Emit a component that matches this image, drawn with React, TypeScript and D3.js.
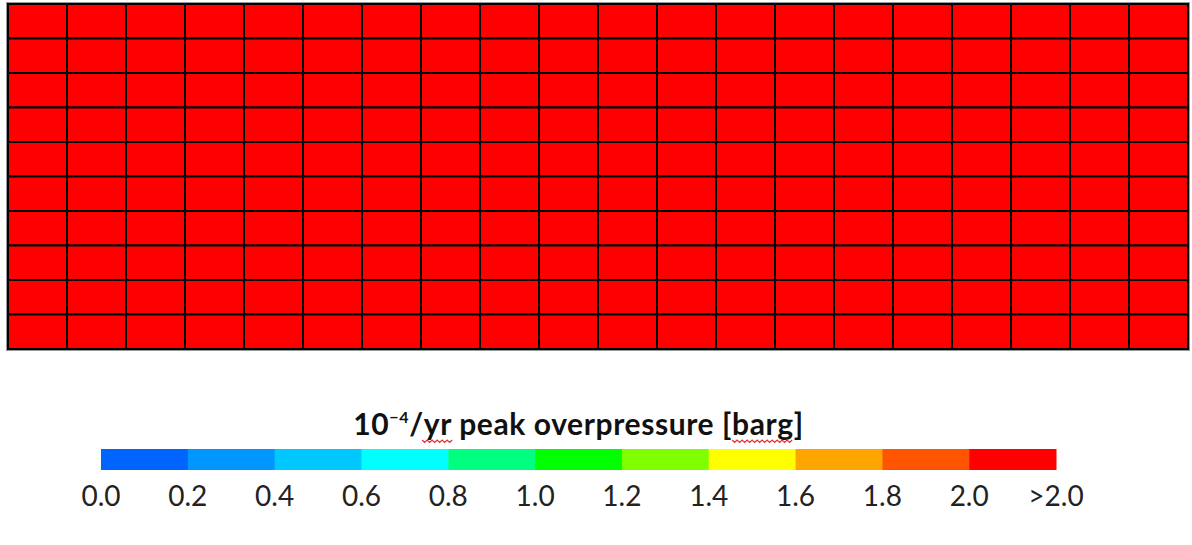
import React, { useEffect, useRef } from 'react';
import * as d3 from 'd3';

// ---- data ----
const columns = ['c01','c02','c03','c04','c05','c06','c07','c08','c09','c10','c11','c12','c13','c14','c15','c16','c17','c18','c19','c20'];
const rows = ['r01','r02','r03','r04','r05','r06','r07','r08','r09','r10'];
// 10^-4/yr peak overpressure per cell [barg]; every cell reads ">2.0"
const row01 = [2.5,2.5,2.5,2.5,2.5,2.5,2.5,2.5,2.5,2.5,2.5,2.5,2.5,2.5,2.5,2.5,2.5,2.5,2.5,2.5];
const row02 = [2.5,2.5,2.5,2.5,2.5,2.5,2.5,2.5,2.5,2.5,2.5,2.5,2.5,2.5,2.5,2.5,2.5,2.5,2.5,2.5];
const row03 = [2.5,2.5,2.5,2.5,2.5,2.5,2.5,2.5,2.5,2.5,2.5,2.5,2.5,2.5,2.5,2.5,2.5,2.5,2.5,2.5];
const row04 = [2.5,2.5,2.5,2.5,2.5,2.5,2.5,2.5,2.5,2.5,2.5,2.5,2.5,2.5,2.5,2.5,2.5,2.5,2.5,2.5];
const row05 = [2.5,2.5,2.5,2.5,2.5,2.5,2.5,2.5,2.5,2.5,2.5,2.5,2.5,2.5,2.5,2.5,2.5,2.5,2.5,2.5];
const row06 = [2.5,2.5,2.5,2.5,2.5,2.5,2.5,2.5,2.5,2.5,2.5,2.5,2.5,2.5,2.5,2.5,2.5,2.5,2.5,2.5];
const row07 = [2.5,2.5,2.5,2.5,2.5,2.5,2.5,2.5,2.5,2.5,2.5,2.5,2.5,2.5,2.5,2.5,2.5,2.5,2.5,2.5];
const row08 = [2.5,2.5,2.5,2.5,2.5,2.5,2.5,2.5,2.5,2.5,2.5,2.5,2.5,2.5,2.5,2.5,2.5,2.5,2.5,2.5];
const row09 = [2.5,2.5,2.5,2.5,2.5,2.5,2.5,2.5,2.5,2.5,2.5,2.5,2.5,2.5,2.5,2.5,2.5,2.5,2.5,2.5];
const row10 = [2.5,2.5,2.5,2.5,2.5,2.5,2.5,2.5,2.5,2.5,2.5,2.5,2.5,2.5,2.5,2.5,2.5,2.5,2.5,2.5];
const cellValues = [row01,row02,row03,row04,row05,row06,row07,row08,row09,row10];

const legendThresholds = [0.2,0.4,0.6,0.8,1.0,1.2,1.4,1.6,1.8,2.0];
const legendColors = ['#0064ff','#0096ff','#00c8ff','#00ffff','#00ff80','#00ff00','#80ff00','#ffff00','#ffa500','#ff5500','#ff0000'];
const legendTickValues = [0,0.2,0.4,0.6,0.8,1.0,1.2,1.4,1.6,1.8,2.0,2.2];
const legendLabels = ['0.0','0.2','0.4','0.6','0.8','1.0','1.2','1.4','1.6','1.8','2.0','>2.0'];

const W = 1192, H = 545;
const FONT = 'Lato, "Open Sans", sans-serif';

export default function App() {
  const ref = useRef<SVGSVGElement>(null);

  useEffect(() => {
    const svg = d3.select(ref.current);
    svg.selectAll('*').remove();

    const color = d3.scaleThreshold<number, string>().domain(legendThresholds).range(legendColors);

    // ---- grid ----
    const gx = { left: 8, right: 1188, top: 4, bottom: 349 };
    const x = d3.scaleBand().domain(columns).range([gx.left, gx.right]).padding(0);
    const y = d3.scaleBand().domain(rows).range([gx.top, gx.bottom]).padding(0);

    const cells = rows.flatMap((r, i) => columns.map((c, j) => ({ r, c, v: cellValues[i][j] })));

    // soft gray outline
    svg.append('rect')
      .attr('x', gx.left - 1).attr('y', gx.top - 1)
      .attr('width', gx.right - gx.left + 2).attr('height', gx.bottom - gx.top + 2)
      .attr('fill', 'none').attr('stroke', '#999').attr('stroke-width', 2);

    svg.append('g').selectAll('rect').data(cells).join('rect')
      .attr('x', d => x(d.c)!)
      .attr('y', d => y(d.r)!)
      .attr('width', x.bandwidth())
      .attr('height', y.bandwidth())
      .attr('fill', d => color(d.v))
      .attr('stroke', '#000')
      .attr('stroke-width', 2);

    // ---- legend ----
    const lx = d3.scaleLinear().domain([0, 2.2]).range([101, 1056]);
    const barTop = 449, barH = 21;
    const segs = legendColors.map((col, i) => ({ col, x0: legendTickValues[i], x1: legendTickValues[i + 1] }));
    svg.append('g').selectAll('rect').data(segs).join('rect')
      .attr('x', d => lx(d.x0))
      .attr('y', barTop)
      .attr('width', d => lx(d.x1) - lx(d.x0) + 0.5)
      .attr('height', barH)
      .attr('fill', d => d.col);

    svg.append('g').selectAll('text').data(legendTickValues).join('text')
      .attr('x', d => lx(d))
      .attr('y', 506)
      .attr('text-anchor', 'middle')
      .attr('font-family', FONT)
      .attr('font-size', 28)
      .attr('fill', '#222')
      .text((d, i) => legendLabels[i]);

    // ---- title ----
    const title = svg.append('text')
      .attr('x', lx(1.1)).attr('y', 435)
      .attr('text-anchor', 'middle')
      .attr('font-family', FONT)
      .attr('font-weight', 700)
      .attr('font-size', 30)
      .attr('letter-spacing', 0.6)
      .attr('fill', '#111');
    title.append('tspan').text('10');
    title.append('tspan').attr('font-size', 16).attr('dy', -12).text('−4');
    const yr = title.append('tspan').attr('dy', 12).text('/yr');
    title.append('tspan').text(' peak overpressure [');
    const barg = title.append('tspan').text('barg');
    title.append('tspan').text(']');

    // spell-check squiggles visible in the reference
    const squiggle = (node: SVGTSpanElement | null, skipStart: number) => {
      if (!node) return;
      const b = node.getBBox();
      const x0 = b.x + skipStart, x1 = b.x + b.width;
      const pts: [number, number][] = [];
      for (let px = x0, k = 0; px <= x1; px += 2.5, k++) pts.push([px, 440 + (k % 2 ? 2.5 : 0)]);
      svg.append('path').attr('d', d3.line()(pts)).attr('fill', 'none').attr('stroke', '#e03030').attr('stroke-width', 1.2);
    };
    squiggle(yr.node(), 13);
    squiggle(barg.node(), 0);
  }, []);

  return (
    <svg ref={ref} width={W} height={H} style={{ position: 'absolute', left: 0, top: 0, background: '#fff' }} />
  );
}
